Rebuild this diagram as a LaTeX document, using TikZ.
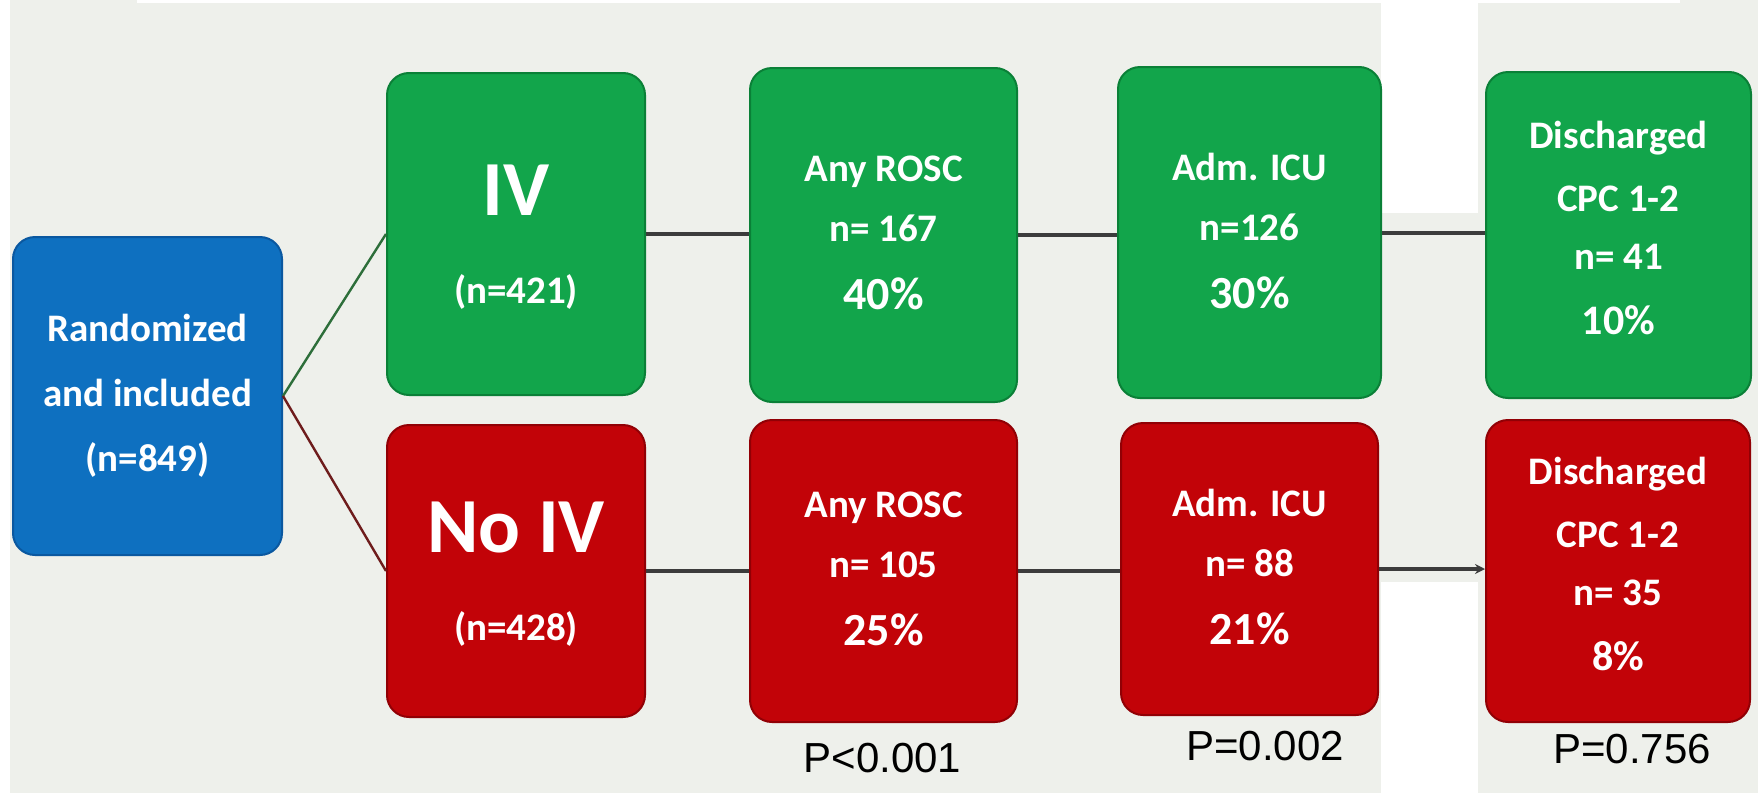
\documentclass[tikz,border=0pt]{standalone}
\usepackage{fontspec}
\setmainfont{Carlito}
\newfontfamily\pfont{Liberation Sans}
\usetikzlibrary{arrows.meta}
\definecolor{bg}{RGB}{238,240,235}
\definecolor{gfill}{RGB}{18,165,75}
\definecolor{gline}{RGB}{10,128,55}
\definecolor{rfill}{RGB}{194,3,8}
\definecolor{rline}{RGB}{145,0,5}
\definecolor{bfill}{RGB}{14,112,192}
\definecolor{bline}{RGB}{10,88,160}
\definecolor{conn}{RGB}{60,60,60}
\definecolor{gdiag}{RGB}{45,110,58}
\definecolor{rdiag}{RGB}{110,28,28}
\begin{document}
\begin{tikzpicture}[x=0.5pt,y=-0.5pt,
  box/.style={rounded corners=11pt, inner sep=0pt, align=center, text=white,
    font=\bfseries\fontsize{19.5}{28}\selectfont, line width=1pt},
  gbox/.style={box, fill=gfill, draw=gline},
  rbox/.style={box, fill=rfill, draw=rline},
  bbox/.style={box, fill=bfill, draw=bline},
  hconn/.style={draw=conn, line width=2pt},
  gdiagc/.style={draw=gdiag, line width=1.2pt},
  rdiagc/.style={draw=rdiag, line width=1.2pt},
  pval/.style={anchor=base, inner sep=0pt, text=black, font=\pfont\fontsize{21}{24}\selectfont}
]
\fill[white] (0,0) rectangle (1758,793);
\useasboundingbox (0,0) rectangle (1758,793);
\fill[bg] (10,0) rectangle (1758,793);
\fill[white] (137,0) rectangle (1680,3);
\fill[white] (1381,0) rectangle (1478,213);
\fill[white] (1381,582) rectangle (1478,793);

% start node
\node[bbox, minimum width=134.5pt, minimum height=159pt] (rand) at (147.5,396)
  {Randomized\\[4.5pt]and included\\[4.5pt](n=849)};

% IV row
\node[gbox, minimum width=129pt, minimum height=161pt, text depth=0pt] (iv) at (516,234)
  {{\fontsize{39}{28}\selectfont IV}\\[16pt](n=421)};
\node[gbox, minimum width=133.5pt, minimum height=167pt, text depth=2pt] (roscG) at (883.5,235)
  {Any ROSC\\[2pt]n= 167\\[6pt]{\fontsize{23}{28}\selectfont 40\%}};
\node[gbox, minimum width=131.5pt, minimum height=165.5pt, text depth=2pt] (icuG) at (1249.5,232.5)
  {Adm. ICU\\[2pt]n=126\\[6pt]{\fontsize{23}{28}\selectfont 30\%}};
\node[gbox, minimum width=132.5pt, minimum height=163pt, text depth=7.5pt] (disG) at (1618.5,235)
  {Discharged\\[3.5pt]CPC 1-2\\[1pt]n= 41\\[4.5pt]{\fontsize{21}{28}\selectfont 10\%}};

% No IV row
\node[rbox, minimum width=129pt, minimum height=146pt, text depth=0pt] (noiv) at (516,571)
  {{\fontsize{39}{28}\selectfont No IV}\\[16pt](n=428)};
\node[rbox, minimum width=133.5pt, minimum height=151pt, text depth=2pt] (roscR) at (883.5,571)
  {Any ROSC\\[2pt]n= 105\\[6pt]{\fontsize{23}{28}\selectfont 25\%}};
\node[rbox, minimum width=128.5pt, minimum height=146pt, text depth=2pt] (icuR) at (1249.5,569)
  {Adm. ICU\\[2pt]n= 88\\[6pt]{\fontsize{23}{28}\selectfont 21\%}};
\node[rbox, minimum width=132pt, minimum height=151pt, text depth=7.5pt] (disR) at (1618,571)
  {Discharged\\[3.5pt]CPC 1-2\\[1pt]n= 35\\[4.5pt]{\fontsize{21}{28}\selectfont 8\%}};

% p-values
\node[pval] (p1) at (882.5,772) {P<0.001};
\node[pval] (p2) at (1265,760) {P=0.002};
\node[pval] (p3) at (1632,763) {P=0.756};

% connectors
\draw[gdiagc] (rand.east) -- (iv.west);
\draw[rdiagc] (rand.east) -- (noiv.west);
\draw[hconn] (iv.east) -- (iv.east -| roscG.west);
\draw[hconn] (roscG.east) -- (roscG.east -| icuG.west);
\draw[hconn] (icuG.east) -- (icuG.east -| disG.west);
\draw[hconn] (noiv.east) -- (noiv.east -| roscR.west);
\draw[hconn] (roscR.east) -- (roscR.east -| icuR.west);
\draw[hconn, -{Stealth[length=5pt,width=5pt]}] (icuR.east) -- (icuR.east -| disR.west);
\end{tikzpicture}
\end{document}
